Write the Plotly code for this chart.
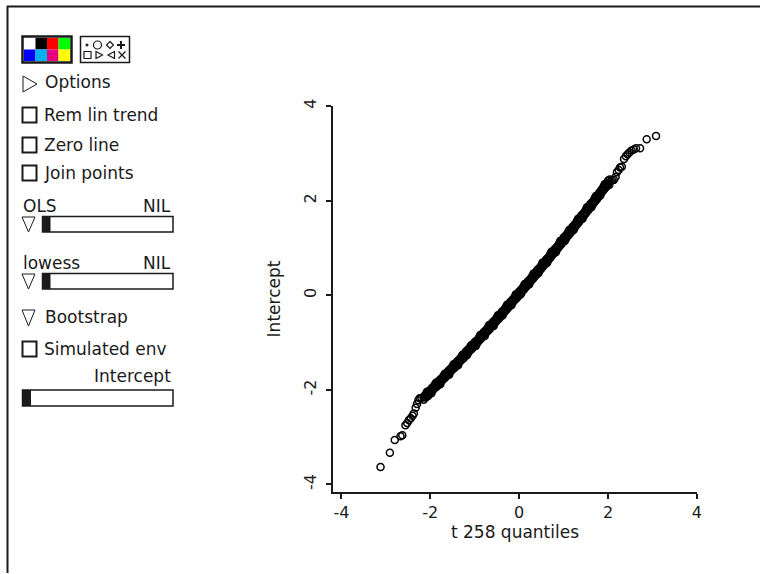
import plotly.graph_objects as go

# ---------------- data ----------------
tail_lo_x = [-3.12, -2.91, -2.80, -2.67, -2.63, -2.56, -2.52, -2.48, -2.44, -2.40, -2.37, -2.33, -2.30, -2.27, -2.24, -2.20]
tail_lo_y = [-3.63, -3.33, -3.06, -2.98, -2.96, -2.75, -2.70, -2.64, -2.60, -2.55, -2.50, -2.38, -2.30, -2.22, -2.18, -2.17]

mid_x = [-2.15, -2.10, -2.05, -2.00, -1.95, -1.90, -1.85, -1.80, -1.75, -1.70,
         -1.65, -1.60, -1.55, -1.50, -1.45, -1.40, -1.35, -1.30, -1.25, -1.20,
         -1.15, -1.10, -1.05, -1.00, -0.95, -0.90, -0.85, -0.80, -0.75, -0.70,
         -0.65, -0.60, -0.55, -0.50, -0.45, -0.40, -0.35, -0.30, -0.25, -0.20,
         -0.15, -0.10, -0.05, 0.00, 0.05, 0.10, 0.15, 0.20, 0.25, 0.30,
         0.35, 0.40, 0.45, 0.50, 0.55, 0.60, 0.65, 0.70, 0.75, 0.80,
         0.85, 0.90, 0.95, 1.00, 1.05, 1.10, 1.15, 1.20, 1.25, 1.30,
         1.35, 1.40, 1.45, 1.50, 1.55, 1.60, 1.65, 1.70, 1.75, 1.80,
         1.85, 1.90, 1.95, 2.00]
mid_y = [-2.21, -2.09, -2.13, -2.00, -2.02, -1.89, -1.93, -1.80, -1.82, -1.70,
         -1.73, -1.60, -1.62, -1.50, -1.53, -1.40, -1.42, -1.30, -1.33, -1.19,
         -1.22, -1.09, -1.12, -0.99, -1.02, -0.89, -0.91, -0.78, -0.80, -0.67,
         -0.70, -0.57, -0.59, -0.46, -0.49, -0.36, -0.38, -0.25, -0.27, -0.14,
         -0.16, -0.03, -0.06, 0.08, 0.05, 0.19, 0.17, 0.30, 0.28, 0.41,
         0.39, 0.53, 0.50, 0.64, 0.62, 0.75, 0.73, 0.87, 0.85, 0.98,
         0.96, 1.10, 1.08, 1.22, 1.19, 1.33, 1.31, 1.45, 1.43, 1.57,
         1.55, 1.69, 1.67, 1.81, 1.79, 1.93, 1.91, 2.05, 2.03, 2.17,
         2.16, 2.30, 2.28, 2.42]

mid2_x = [-2.125, -2.075, -2.025, -1.975, -1.925, -1.875, -1.825, -1.775, -1.725, -1.675,
          -1.625, -1.575, -1.525, -1.475, -1.425, -1.375, -1.325, -1.275, -1.225, -1.175,
          -1.125, -1.075, -1.025, -0.975, -0.925, -0.875, -0.825, -0.775, -0.725, -0.675,
          -0.625, -0.575, -0.525, -0.475, -0.425, -0.375, -0.325, -0.275, -0.225, -0.175,
          -0.125, -0.075, -0.025, 0.025, 0.075, 0.125, 0.175, 0.225, 0.275, 0.325,
          0.375, 0.425, 0.475, 0.525, 0.575, 0.625, 0.675, 0.725, 0.775, 0.825,
          0.875, 0.925, 0.975, 1.025, 1.075, 1.125, 1.175, 1.225, 1.275, 1.325,
          1.375, 1.425, 1.475, 1.525, 1.575, 1.625, 1.675, 1.725, 1.775, 1.825,
          1.875, 1.925, 1.975, 2.025]
mid2_y = [-2.15, -2.04, -2.06, -2.07, -1.96, -1.85, -1.86, -1.88, -1.77, -1.66,
          -1.67, -1.68, -1.57, -1.46, -1.47, -1.48, -1.37, -1.26, -1.26, -1.27,
          -1.16, -1.05, -1.06, -1.07, -0.95, -0.84, -0.85, -0.86, -0.75, -0.63,
          -0.64, -0.65, -0.53, -0.42, -0.43, -0.43, -0.32, -0.20, -0.21, -0.21,
          -0.10, 0.02, 0.01, 0.01, 0.13, 0.24, 0.24, 0.23, 0.35, 0.46,
          0.46, 0.46, 0.57, 0.69, 0.69, 0.68, 0.80, 0.92, 0.92, 0.91,
          1.03, 1.15, 1.15, 1.15, 1.27, 1.38, 1.38, 1.38, 1.50, 1.62,
          1.62, 1.62, 1.74, 1.86, 1.86, 1.86, 1.98, 2.10, 2.11, 2.11,
          2.23, 2.35, 2.35, 2.33]

mid3_x = [-2.1375, -2.0875, -2.0375, -1.9875, -1.9375, -1.8875, -1.8375, -1.7875, -1.7375, -1.6875,
          -1.6375, -1.5875, -1.5375, -1.4875, -1.4375, -1.3875, -1.3375, -1.2875, -1.2375, -1.1875,
          -1.1375, -1.0875, -1.0375, -0.9875, -0.9375, -0.8875, -0.8375, -0.7875, -0.7375, -0.6875,
          -0.6375, -0.5875, -0.5375, -0.4875, -0.4375, -0.3875, -0.3375, -0.2875, -0.2375, -0.1875,
          -0.1375, -0.0875, -0.0375, 0.0125, 0.0625, 0.1125, 0.1625, 0.2125, 0.2625, 0.3125,
          0.3625, 0.4125, 0.4625, 0.5125, 0.5625, 0.6125, 0.6625, 0.7125, 0.7625, 0.8125,
          0.8625, 0.9125, 0.9625, 1.0125, 1.0625, 1.1125, 1.1625, 1.2125, 1.2625, 1.3125,
          1.3625, 1.4125, 1.4625, 1.5125, 1.5625, 1.6125, 1.6625, 1.7125, 1.7625, 1.8125,
          1.8625, 1.9125, 1.9625, 2.0125]
mid3_y = [-2.13, -2.15, -2.04, -2.05, -1.94, -1.95, -1.84, -1.86, -1.75, -1.76,
          -1.65, -1.66, -1.55, -1.56, -1.45, -1.46, -1.35, -1.36, -1.25, -1.25,
          -1.14, -1.15, -1.04, -1.05, -0.94, -0.94, -0.83, -0.84, -0.73, -0.74,
          -0.62, -0.63, -0.52, -0.52, -0.41, -0.42, -0.30, -0.31, -0.19, -0.20,
          -0.08, -0.09, 0.02, 0.02, 0.14, 0.13, 0.25, 0.24, 0.36, 0.35,
          0.47, 0.47, 0.58, 0.58, 0.70, 0.69, 0.81, 0.81, 0.93, 0.92,
          1.04, 1.04, 1.16, 1.16, 1.28, 1.27, 1.39, 1.39, 1.51, 1.51,
          1.63, 1.63, 1.75, 1.75, 1.87, 1.87, 1.99, 1.99, 2.11, 2.12,
          2.24, 2.24, 2.36, 2.36]

mid4_x = [-2.1125, -2.0625, -2.0125, -1.9625, -1.9125, -1.8625, -1.8125, -1.7625, -1.7125, -1.6625,
          -1.6125, -1.5625, -1.5125, -1.4625, -1.4125, -1.3625, -1.3125, -1.2625, -1.2125, -1.1625,
          -1.1125, -1.0625, -1.0125, -0.9625, -0.9125, -0.8625, -0.8125, -0.7625, -0.7125, -0.6625,
          -0.6125, -0.5625, -0.5125, -0.4625, -0.4125, -0.3625, -0.3125, -0.2625, -0.2125, -0.1625,
          -0.1125, -0.0625, -0.0125, 0.0375, 0.0875, 0.1375, 0.1875, 0.2375, 0.2875, 0.3375,
          0.3875, 0.4375, 0.4875, 0.5375, 0.5875, 0.6375, 0.6875, 0.7375, 0.7875, 0.8375,
          0.8875, 0.9375, 0.9875, 1.0375, 1.0875, 1.1375, 1.1875, 1.2375, 1.2875, 1.3375,
          1.3875, 1.4375, 1.4875, 1.5375, 1.5875, 1.6375, 1.6875, 1.7375, 1.7875, 1.8375,
          1.8875, 1.9375, 1.9875, 2.0375]
mid4_y = [-2.16, -2.06, -2.07, -1.96, -1.97, -1.86, -1.87, -1.77, -1.78, -1.67,
          -1.68, -1.57, -1.58, -1.47, -1.48, -1.37, -1.38, -1.27, -1.28, -1.16,
          -1.17, -1.06, -1.07, -0.96, -0.97, -0.85, -0.86, -0.75, -0.76, -0.65,
          -0.65, -0.54, -0.55, -0.43, -0.44, -0.33, -0.33, -0.22, -0.22, -0.11,
          -0.11, 0.00, -0.01, 0.11, 0.11, 0.22, 0.22, 0.33, 0.33, 0.44,
          0.44, 0.56, 0.55, 0.67, 0.67, 0.78, 0.78, 0.90, 0.90, 1.01,
          1.01, 1.13, 1.13, 1.25, 1.25, 1.36, 1.36, 1.48, 1.48, 1.60,
          1.60, 1.72, 1.72, 1.84, 1.84, 1.96, 1.96, 2.08, 2.08, 2.21,
          2.21, 2.33, 2.33, 2.45]

tail_hi_x = [2.05, 2.09, 2.13, 2.17, 2.20, 2.24, 2.27, 2.31, 2.36, 2.40, 2.44, 2.48, 2.53, 2.58, 2.63, 2.72, 2.87, 3.08]
tail_hi_y = [2.40, 2.43, 2.44, 2.50, 2.60, 2.65, 2.70, 2.72, 2.88, 2.94, 2.98, 3.02, 3.06, 3.08, 3.11, 3.11, 3.30, 3.37]

x_ticks = [-4, -2, 0, 2, 4]
y_ticks = [-4, -2, 0, 2, 4]
x_title = "t 258 quantiles"
y_title = "Intercept"

palette_colors = [["#ffffff", "#000000", "#ff0000", "#00ff00"],
                  ["#0000ff", "#00b0f0", "#e6007e", "#ffff00"]]

qq_x = tail_lo_x + mid_x + mid2_x + mid3_x + mid4_x + tail_hi_x
qq_y = tail_lo_y + mid_y + mid2_y + mid3_y + mid4_y + tail_hi_y

# ---------------- layout geometry ----------------
FW, FH = 761, 574
L, R, T, B = 333, 697, 106, 492
FONT = "DejaVu Sans"
INK = "#1a1a1a"


def fx(p):
    return (p - L) / (R - L)


def fy(p):
    return (B - p) / (B - T)


shapes = []
annots = []


def rect(x0, y0, x1, y1, lw=1.5, fill=None):
    d = dict(type="rect", xref="paper", yref="paper",
             x0=fx(x0), x1=fx(x1), y0=fy(y0), y1=fy(y1),
             line=dict(color=INK, width=lw) if lw > 0 else dict(width=0))
    if fill is not None:
        d["fillcolor"] = fill
    shapes.append(d)


def line(x0, y0, x1, y1, lw=2):
    shapes.append(dict(type="line", xref="paper", yref="paper",
                       x0=fx(x0), x1=fx(x1), y0=fy(y0), y1=fy(y1),
                       line=dict(color=INK, width=lw)))


def poly(pts, lw=1, fill=None):
    path = "M " + " L ".join(f"{fx(a)},{fy(b)}" for a, b in pts) + " Z"
    d = dict(type="path", xref="paper", yref="paper", path=path,
             line=dict(color=INK, width=lw))
    if fill is not None:
        d["fillcolor"] = fill
    shapes.append(d)


def circle(xc, yc, r, lw=1, fill=None):
    d = dict(type="circle", xref="paper", yref="paper",
             x0=fx(xc - r), x1=fx(xc + r), y0=fy(yc + r), y1=fy(yc - r),
             line=dict(color=INK, width=lw))
    if fill is not None:
        d["fillcolor"] = fill
    shapes.append(d)


def text(s, x, y, anchor="left", size=17):
    annots.append(dict(text=s, xref="paper", yref="paper", x=fx(x), y=fy(y),
                       xanchor=anchor, yanchor="middle", showarrow=False,
                       font=dict(family=FONT, size=size, color=INK)))


# window frame (left and top edges only)
line(7, 6.5, 760, 6.5, 2)
line(7.5, 6, 7.5, 573, 2)

# colour palette
cw = (70 - 24) / 4.0
ch = (61 - 38) / 2.0
for r, row in enumerate(palette_colors):
    for c, col in enumerate(row):
        rect(24 + c * cw, 38 + r * ch, 24 + (c + 1) * cw, 38 + (r + 1) * ch, lw=0, fill=col)
rect(22.5, 36.5, 71.5, 62.5, lw=2.5)

# symbol box with the eight point-symbol icons
rect(80.5, 36.5, 129.5, 62.5, lw=1.5)
circle(87, 45, 1.1, lw=1, fill=INK)
circle(97.5, 45, 4, lw=1.2)
poly([(110, 41.5), (113.5, 45), (110, 48.5), (106.5, 45)], lw=1.2)
line(121, 41, 121, 49, 2)
line(117, 45, 125, 45, 2)
rect(84, 51.5, 91, 58.5, lw=1.2)
poly([(96, 51.5), (102.5, 55), (96, 58.5)], lw=1.2)
poly([(114.5, 51.5), (108, 55), (114.5, 58.5)], lw=1.2)
line(118.5, 51.5, 125.5, 58.5, 1.2)
line(118.5, 58.5, 125.5, 51.5, 1.2)

# Options
poly([(23, 76), (37, 84), (23, 92)])
text("Options", 43, 82)

# check boxes
for yc, lab in [(115, "Rem lin trend"), (145, "Zero line"), (173, "Join points"), (349, "Simulated env")]:
    rect(22.5, yc - 7.5, 36.5, yc + 7.5, lw=2)
    text(lab, 42, yc)

# OLS slider
text("OLS", 21, 206)
text("NIL", 173, 206, anchor="right")
poly([(22, 217), (35, 217), (28.5, 232)])
rect(42.5, 216.5, 173, 232, lw=1.5)
rect(42.5, 216.5, 50.5, 232, lw=0, fill=INK)

# lowess slider
text("lowess", 21, 263)
text("NIL", 173, 263, anchor="right")
poly([(22, 274), (35, 274), (28.5, 289)])
rect(42.5, 273.5, 173, 289, lw=1.5)
rect(42.5, 273.5, 50.5, 289, lw=0, fill=INK)

# Bootstrap
poly([(22, 310), (35, 310), (28.5, 326)])
text("Bootstrap", 43, 317)

# Intercept slider
text("Intercept", 173, 376, anchor="right")
rect(22.5, 390, 173, 406, lw=1.5)
rect(22.5, 390, 31, 406, lw=0, fill=INK)

# ---------------- figure ----------------
fig = go.Figure()
fig.add_trace(go.Scatter(
    x=qq_x, y=qq_y, mode="markers",
    marker=dict(symbol="circle-open", size=7, color="black", line=dict(width=1.5, color="black")),
    hoverinfo="skip", showlegend=False))

axis_common = dict(showgrid=False, zeroline=False, showline=True, linecolor=INK, linewidth=1.5,
                   ticks="outside", ticklen=5, tickwidth=1.5, tickcolor=INK,
                   tickfont=dict(family=FONT, size=16, color=INK),
                   title_font=dict(family=FONT, size=17, color=INK))

fig.update_xaxes(range=[-4.19, 4.002], tickmode="array", tickvals=x_ticks,
                 ticktext=[str(v) for v in x_ticks],
                 title=dict(text=x_title, standoff=4), **axis_common)
fig.update_yaxes(range=[-4.16, 4.002], tickmode="array", tickvals=y_ticks,
                 ticktext=[str(v) for v in y_ticks], tickangle=-90, ticklabelstandoff=4,
                 title=dict(text=y_title, standoff=16), **axis_common)

fig.update_layout(width=FW, height=FH, margin=dict(l=L, r=FW - R, t=T, b=FH - B),
                  paper_bgcolor="white", plot_bgcolor="white",
                  shapes=shapes, annotations=annots,
                  font=dict(family=FONT, color=INK))

fig.write_html("out.html", config={"displayModeBar": False},
               post_script="document.body.style.margin='0px';document.body.style.overflow='hidden';")
